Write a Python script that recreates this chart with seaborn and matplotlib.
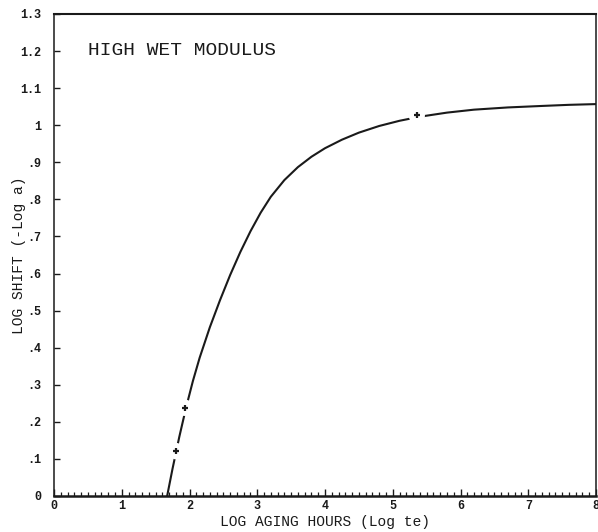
import matplotlib
matplotlib.use("Agg")
import matplotlib.pyplot as plt
import seaborn as sns
import pandas as pd
from matplotlib.ticker import MultipleLocator, FixedLocator

# fitted curve
curve_x = [1.67, 1.75, 1.85, 1.95, 2.05, 2.15, 2.30, 2.45, 2.60, 2.75, 2.90,
           3.05, 3.20, 3.40, 3.60, 3.80, 4.00, 4.25, 4.50, 4.80, 5.10, 5.40,
           5.80, 6.20, 6.70, 7.20, 7.60, 8.00]
curve_y = [0.000, 0.074, 0.160, 0.239, 0.310, 0.373, 0.455, 0.528, 0.596,
           0.658, 0.714, 0.764, 0.807, 0.852, 0.887, 0.915, 0.938, 0.961,
           0.980, 0.998, 1.012, 1.023, 1.034, 1.042, 1.048, 1.052, 1.055,
           1.057]

# data points
pts_x = [1.801, 1.934, 5.354]
pts_y = [0.121, 0.238, 1.027]

x_ticks = [0, 1, 2, 3, 4, 5, 6, 7, 8]
x_tick_labels = ["0", "1", "2", "3", "4", "5", "6", "7", "8"]
y_ticks = [0.0, 0.1, 0.2, 0.3, 0.4, 0.5, 0.6, 0.7, 0.8, 0.9, 1.0, 1.1, 1.2, 1.3]
y_tick_labels = ["0", ".1", ".2", ".3", ".4", ".5", ".6", ".7", ".8", ".9",
                 "1", "1.1", "1.2", "1.3"]

title_text = "HIGH WET MODULUS"
x_label = "LOG AGING HOURS (Log te)"
y_label = "LOG SHIFT (-Log a)"

sns.set_style("ticks")
plt.rcParams["font.family"] = ["Liberation Mono", "DejaVu Sans Mono"]

curve_df = pd.DataFrame({"x": curve_x, "y": curve_y})
pts_df = pd.DataFrame({"x": pts_x, "y": pts_y})

fig = plt.figure(figsize=(5.98, 5.32), dpi=100)
ax = fig.add_axes([54 / 598, 36 / 532, 542 / 598, 482 / 532])

sns.lineplot(data=curve_df, x="x", y="y", ax=ax, color="#1a1a1a",
             linewidth=1.5, sort=False, estimator=None, zorder=2)
# white gaps around the plotted points (pen lifted by the plotter)
sns.scatterplot(data=pts_df, x="x", y="y", ax=ax, marker="o", s=140,
                color="white", edgecolor="none", linewidth=0, zorder=5)
sns.scatterplot(data=pts_df, x="x", y="y", ax=ax, marker="+", s=24,
                color="#1a1a1a", linewidth=1.6, zorder=6)

ax.set_xlim(0, 8)
ax.set_ylim(0, 1.3)
ax.xaxis.set_major_locator(FixedLocator(x_ticks))
ax.set_xticklabels(x_tick_labels)
ax.xaxis.set_minor_locator(MultipleLocator(0.1))
ax.yaxis.set_major_locator(FixedLocator(y_ticks))
ax.set_yticklabels(y_tick_labels)

ax.tick_params(axis="x", which="major", direction="in", length=5, width=1,
               labelsize=8.5, pad=3, colors="#1a1a1a")
ax.tick_params(axis="x", which="minor", direction="in", length=3, width=0.9,
               colors="#1a1a1a")
ax.tick_params(axis="y", which="major", direction="in", length=4, width=1,
               labelsize=8.5, pad=9, colors="#1a1a1a")
for lbl in ax.get_xticklabels() + ax.get_yticklabels():
    lbl.set_fontweight("bold")

for side in ["left", "right", "top", "bottom"]:
    ax.spines[side].set_visible(True)
    ax.spines[side].set_color("#1a1a1a")
ax.spines["left"].set_linewidth(1.1)
ax.spines["right"].set_linewidth(1.1)
ax.spines["top"].set_linewidth(1.5)
ax.spines["bottom"].set_linewidth(1.8)

ax.set_xlabel(x_label, fontsize=10.5, color="#1a1a1a", labelpad=2)
ax.set_ylabel(y_label, fontsize=10.5, color="#1a1a1a")
ax.yaxis.set_label_coords(-0.052, 0.5)

ax.text(0.063, 0.925, title_text, transform=ax.transAxes, fontsize=14,
        color="#1a1a1a", ha="left", va="center")

fig.savefig("out.png", dpi=100, facecolor="white")
